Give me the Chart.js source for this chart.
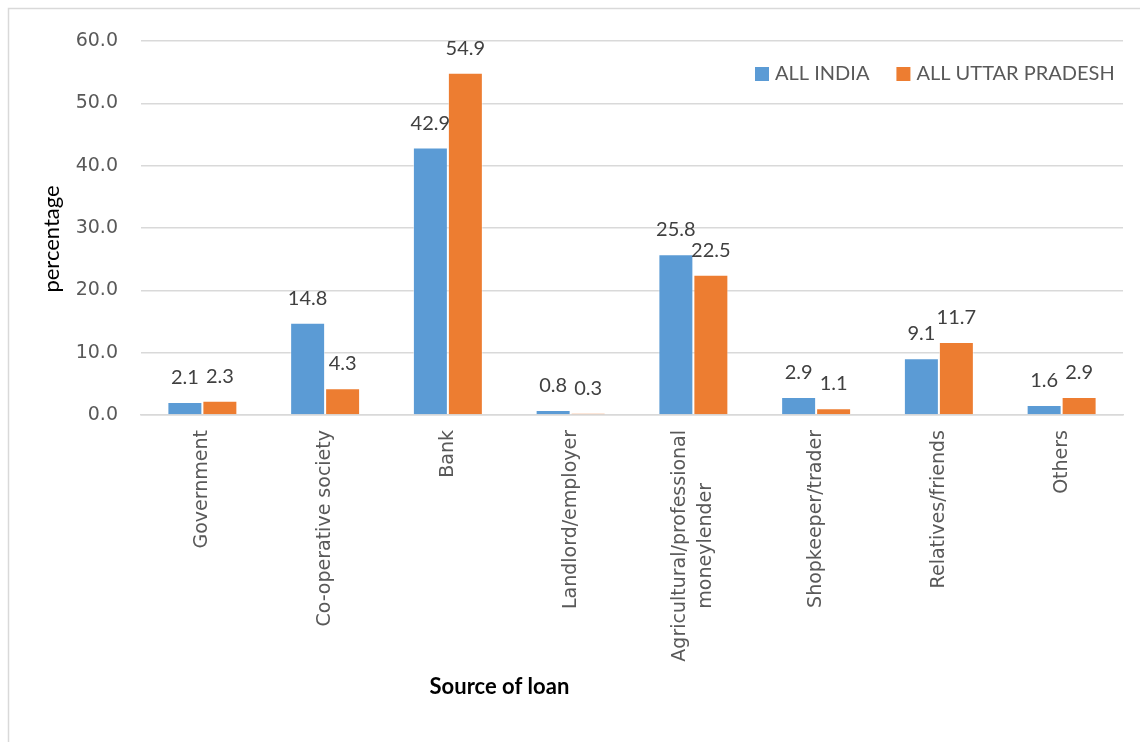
<!DOCTYPE html>
<html>
<head>
<meta charset="utf-8">
<script src="https://cdn.jsdelivr.net/npm/chart.js@4.4.1/dist/chart.umd.min.js"></script>
<style>
  html, body { margin: 0; padding: 0; background: #fff; }
  #wrap { width: 1140px; height: 742px; position: relative; }
</style>
</head>
<body>
<div id="wrap"><canvas id="myChart" width="1140" height="742"></canvas></div>
<script>
// categories and series
const sources = [
  'Government',
  'Co-operative society',
  'Bank',
  'Landlord/employer',
  ['Agricultural/professional', 'moneylender'],
  'Shopkeeper/trader',
  'Relatives/friends',
  'Others'
];
const allIndia = [2.1, 14.8, 42.9, 0.8, 25.8, 2.9, 9.1, 1.6];
const allUP = [2.3, 4.3, 54.9, 0.3, 22.5, 1.1, 11.7, 2.9];
const yTicks = [0, 10, 20, 30, 40, 50, 60];

const ctx = document.getElementById('myChart').getContext('2d');
const tickFont = { family: '"DejaVu Sans", sans-serif', size: 19 };

// draws category labels ourselves so two-line labels stay centred on each other
function drawCategoryLabels(chart) {
  const c = chart.ctx;
  const xs = chart.scales.x;
  const top = chart.chartArea.bottom + 15;
  const lineH = 26;
  c.save();
  c.font = '19px "DejaVu Sans", sans-serif';
  c.fillStyle = '#595959';
  c.textBaseline = 'middle';
  sources.forEach((lab, i) => {
    const lines = Array.isArray(lab) ? lab : [lab];
    const x0 = xs.getPixelForTick(i) - (lines.length - 1) * lineH / 2;
    const widths = lines.map(l => c.measureText(l).width);
    const maxW = Math.max(...widths);
    lines.forEach((l, k) => {
      c.save();
      c.translate(x0 + k * lineH, top + (maxW - widths[k]) / 2);
      c.rotate(-Math.PI / 2);
      c.textAlign = 'right';
      c.fillText(l, 0, 0);
      c.restore();
    });
  });
  c.restore();
}

// value labels above each bar, frame, legend and axis titles
const extras = {
  id: 'extras',
  beforeDraw(chart) {
    const c = chart.ctx;
    c.save();
    c.strokeStyle = '#d9d9d9';
    c.lineWidth = 1.5;
    c.beginPath();
    c.moveTo(8.5, 742);
    c.lineTo(8.5, 8.5);
    c.lineTo(1140, 8.5);
    c.stroke();
    c.restore();
  },
  afterDatasetsDraw(chart) {
    const c = chart.ctx;
    const area = chart.chartArea;
    c.save();
    c.font = '20px Lato, "Open Sans", sans-serif';
    c.fillStyle = '#404040';
    c.textAlign = 'center';
    c.textBaseline = 'alphabetic';
    chart.data.datasets.forEach((ds, i) => {
      chart.getDatasetMeta(i).data.forEach((bar, j) => {
        c.fillText(ds.data[j].toFixed(1), bar.x, bar.y - 18);
      });
    });

    // legend
    let lx = 755;
    const ly = 74;
    c.textAlign = 'left';
    c.textBaseline = 'middle';
    c.font = '20px Lato, "Open Sans", sans-serif';
    chart.data.datasets.forEach((ds) => {
      c.fillStyle = ds.backgroundColor;
      c.fillRect(lx, ly - 7, 14, 14);
      c.fillStyle = '#595959';
      c.fillText(ds.label, lx + 20, ly);
      lx += 20 + c.measureText(ds.label).width + 27;
    });

    // y axis title
    c.save();
    c.translate(52, 239);
    c.rotate(-Math.PI / 2);
    c.textAlign = 'center';
    c.textBaseline = 'middle';
    c.fillStyle = '#000';
    c.font = '22px Lato, "Open Sans", sans-serif';
    c.fillText('percentage', 0, 0);
    c.restore();

    // x axis title
    c.textAlign = 'center';
    c.textBaseline = 'middle';
    c.fillStyle = '#000';
    c.font = 'bold 22px Lato, "Open Sans", sans-serif';
    c.fillText('Source of loan', area.left + area.width * 0.365, 687);
    c.restore();

    drawCategoryLabels(chart);
  }
};

const chart = new Chart(ctx, {
  type: 'bar',
  data: {
    labels: sources,
    datasets: [
      {
        label: 'ALL INDIA',
        data: allIndia,
        backgroundColor: '#5B9BD5',
        borderColor: 'rgba(255,255,255,0.45)',
        borderWidth: 1
      },
      {
        label: 'ALL UTTAR PRADESH',
        data: allUP,
        backgroundColor: '#ED7D31',
        borderColor: 'rgba(255,255,255,0.45)',
        borderWidth: 1
      }
    ]
  },
  options: {
    responsive: false,
    animation: false,
    layout: { padding: { top: 41, right: 17, left: 0, bottom: 0 } },
    datasets: {
      bar: { categoryPercentage: 0.57, barPercentage: 1.0 }
    },
    scales: {
      x: {
        grid: { display: false },
        border: { color: '#d9d9d9', width: 1.5 },
        ticks: { display: false },
        afterFit(scale) { scale.height = 327; }
      },
      y: {
        min: 0,
        max: 60,
        afterBuildTicks(scale) {
          scale.ticks = yTicks.map(v => ({ value: v }));
        },
        grid: { color: '#d9d9d9', lineWidth: 1.5, drawTicks: false },
        border: { display: false },
        ticks: {
          color: '#595959',
          font: tickFont,
          padding: 23,
          callback: v => v.toFixed(1)
        },
        afterFit(scale) { scale.width = 141; }
      }
    },
    plugins: {
      legend: { display: false },
      tooltip: { enabled: false }
    }
  },
  plugins: [extras]
});
</script>
</body>
</html>
